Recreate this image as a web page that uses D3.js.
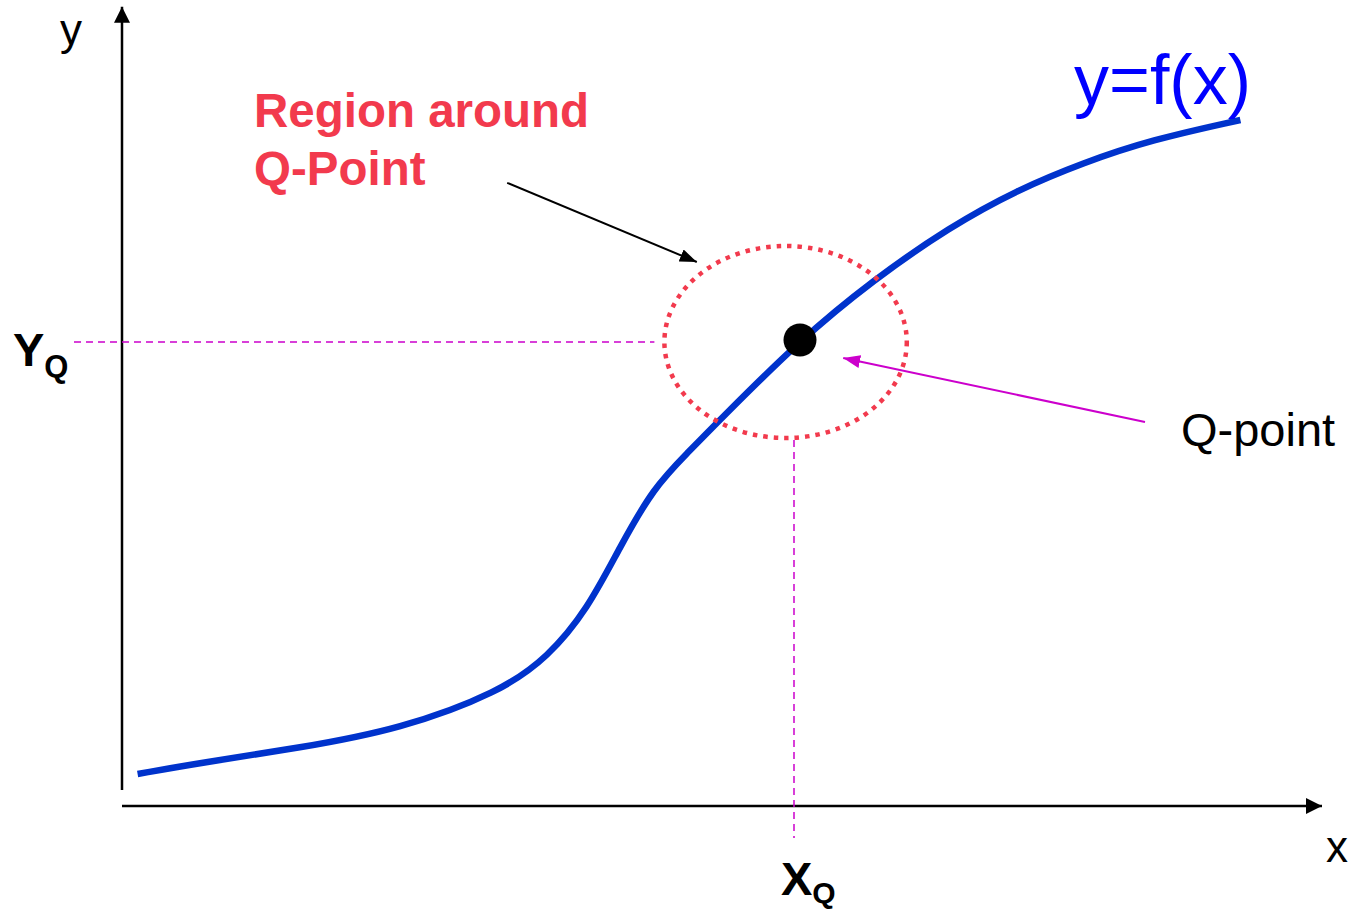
<!DOCTYPE html>
<meta charset="utf-8">
<style>
body { margin: 0; background: #fff; }
text { font-family: "Liberation Sans", Arial, sans-serif; }
</style>
<body>
<script src="https://d3js.org/d3.v7.min.js"></script>
<script>
// curve y=f(x) (axis units 0..100)
var curveX = [1.3, 6.5, 14.8, 23.2, 31.5, 35.5, 38.8, 41.5, 44.3, 47.1, 49.8, 56.5, 62.6, 69.0, 74.6, 80.1, 85.7, 93.2];
var curveY = [4.0, 5.4, 7.25, 9.6, 14.25, 18.6, 24.6, 32.4, 39.8, 44.1, 48.25, 58.25, 65.75, 72.4, 77.0, 80.4, 83.25, 85.75];

// operating point and region around it
var qPoint = [56, 58];
var region = [55.3, 58, 10.1, 12];   // cx, cy, rx, ry
var blackArrow = [[32.1, 77.9], [47.9, 68.0]];
var pinkArrow = [[85.25, 48.0], [60.1, 56.0]];

var W = 1353, H = 912;
var svg = d3.select('body').append('svg').attr('width', W).attr('height', H);

var x = d3.scaleLinear().domain([0, 100]).range([122, 1322]);
var y = d3.scaleLinear().domain([0, 100]).range([806, 6]);

var defs = svg.append('defs');
function marker(id, color, len, wid) {
    defs.append('marker')
        .attr('id', id)
        .attr('viewBox', '0 0 10 10')
        .attr('refX', 10).attr('refY', 5)
        .attr('markerUnits', 'userSpaceOnUse')
        .attr('markerWidth', len).attr('markerHeight', wid)
        .attr('orient', 'auto')
        .attr('preserveAspectRatio', 'none')
        .append('path').attr('d', 'M0,0L10,5L0,10z').attr('fill', color);
}
marker('axisHead', '#000', 16, 16);
marker('blackHead', '#000', 17, 13);
marker('pinkHead', '#cc00cc', 17, 13);

// axes
svg.append('line')
    .attr('x1', x(0)).attr('y1', y(2)).attr('x2', x(0)).attr('y2', y(99.9))
    .attr('stroke', '#000').attr('stroke-width', 2.5).attr('marker-end', 'url(#axisHead)');
svg.append('line')
    .attr('x1', x(0)).attr('y1', y(0)).attr('x2', x(100)).attr('y2', y(0))
    .attr('stroke', '#000').attr('stroke-width', 2.5).attr('marker-end', 'url(#axisHead)');

// dashed guides to the Q-point
svg.append('line')
    .attr('x1', 74).attr('y1', y(qPoint[1])).attr('x2', x(region[0] - region[2]) - 10).attr('y2', y(qPoint[1]))
    .attr('stroke', '#cc00cc').attr('stroke-width', 1.5).attr('stroke-dasharray', '7 5');
svg.append('line')
    .attr('x1', x(qPoint[0])).attr('y1', y(region[1] - region[3]) + 2).attr('x2', x(qPoint[0])).attr('y2', 838)
    .attr('stroke', '#cc00cc').attr('stroke-width', 1.5).attr('stroke-dasharray', '7 5');

// the curve
var pts = curveX.map(function (d, i) { return [d, curveY[i]]; });
var line = d3.line().x(function (d) { return x(d[0]); }).y(function (d) { return y(d[1]); })
    .curve(d3.curveBasis);
svg.append('path').datum(pts)
    .attr('d', line)
    .attr('fill', 'none').attr('stroke', '#0033cc').attr('stroke-width', 6.5);

// region ellipse
svg.append('ellipse')
    .attr('cx', x(region[0])).attr('cy', y(region[1]))
    .attr('rx', x(region[2]) - x(0)).attr('ry', y(0) - y(region[3]))
    .attr('fill', 'none').attr('stroke', '#f23a4d').attr('stroke-width', 4.5)
    .attr('stroke-dasharray', '4.5 6');

// Q-point
svg.append('circle')
    .attr('cx', x(qPoint[0]) + 6).attr('cy', y(qPoint[1]) - 2).attr('r', 16.5).attr('fill', '#000');

// annotation arrows
svg.append('line')
    .attr('x1', x(blackArrow[0][0])).attr('y1', y(blackArrow[0][1]))
    .attr('x2', x(blackArrow[1][0])).attr('y2', y(blackArrow[1][1]))
    .attr('stroke', '#000').attr('stroke-width', 2).attr('marker-end', 'url(#blackHead)');
svg.append('line')
    .attr('x1', x(pinkArrow[0][0])).attr('y1', y(pinkArrow[0][1]))
    .attr('x2', x(pinkArrow[1][0])).attr('y2', y(pinkArrow[1][1]))
    .attr('stroke', '#cc00cc').attr('stroke-width', 2).attr('marker-end', 'url(#pinkHead)');

// labels
svg.append('text').attr('x', 60).attr('y', 45).attr('font-size', 44).text('y');
svg.append('text').attr('x', 1326).attr('y', 862).attr('font-size', 44).text('x');

var yq = svg.append('text').attr('x', 13).attr('y', 366).attr('font-size', 47).attr('font-weight', 'bold');
yq.append('tspan').text('Y');
yq.append('tspan').attr('font-size', 31).attr('dy', 11).text('Q');

var xq = svg.append('text').attr('x', 781).attr('y', 895).attr('font-size', 47).attr('font-weight', 'bold');
xq.append('tspan').text('X');
xq.append('tspan').attr('font-size', 30).attr('dy', 8).text('Q');

svg.append('text').attr('x', 254).attr('y', 127).attr('font-size', 47.5).attr('font-weight', 'bold')
    .attr('fill', '#f23a4d').text('Region around');
svg.append('text').attr('x', 254).attr('y', 185).attr('font-size', 47.5).attr('font-weight', 'bold')
    .attr('fill', '#f23a4d').text('Q-Point');

svg.append('text').attr('x', 1074).attr('y', 104).attr('font-size', 70).attr('fill', '#0000ff').text('y=f(x)');
svg.append('text').attr('x', 1181).attr('y', 446).attr('font-size', 47).attr('fill', '#000').text('Q-point');
</script>
</body>
